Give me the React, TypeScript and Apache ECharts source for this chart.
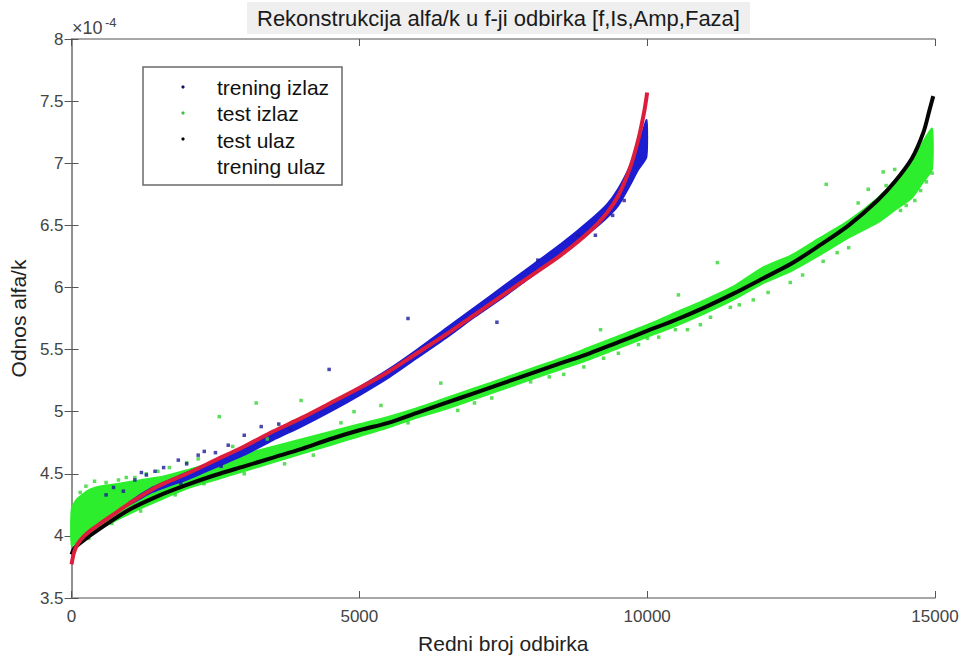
import React, { useEffect, useRef } from "react";
import * as echarts from "echarts";

const FONT = "'Liberation Sans', Arial, Helvetica, sans-serif";

// x axis ticks / y axis ticks (y values in units of 1e-4)
const xTicks = [0, 5000, 10000, 15000];
const yTicks = [3.5, 4, 4.5, 5, 5.5, 6, 6.5, 7, 7.5, 8];

// trening ulaz (red curve)
const trainInX = [0, 40, 100, 200, 350, 500, 750, 1000, 1500, 2000, 2500, 3000, 3500, 4000, 4500, 5000, 5500, 6000, 6500, 7000, 7500, 8000, 8500, 9000, 9300, 9500, 9700, 9850, 9950, 10000];
const trainInY = [3.77, 3.86, 3.93, 3.99, 4.05, 4.10, 4.18, 4.26, 4.40, 4.50, 4.61, 4.72, 4.84, 4.95, 5.07, 5.19, 5.32, 5.47, 5.62, 5.78, 5.94, 6.10, 6.26, 6.45, 6.60, 6.74, 6.96, 7.20, 7.42, 7.57];

// test ulaz (black curve)
const testInX = [0, 50, 170, 500, 1000, 1500, 2000, 2500, 3000, 3500, 4000, 4500, 5000, 5500, 6000, 6500, 7000, 7500, 8000, 8500, 9000, 9500, 10000, 10500, 11000, 11500, 12000, 12500, 13000, 13500, 14000, 14300, 14600, 14800, 14900, 14970];
const testInY = [3.85, 3.90, 3.95, 4.06, 4.21, 4.32, 4.41, 4.49, 4.56, 4.63, 4.70, 4.78, 4.85, 4.91, 4.99, 5.07, 5.15, 5.23, 5.31, 5.39, 5.47, 5.56, 5.65, 5.74, 5.84, 5.95, 6.07, 6.19, 6.34, 6.50, 6.70, 6.85, 7.04, 7.25, 7.42, 7.54];

// trening izlaz (blue) — dense band: lower / upper edge
const trainOutX = [1000, 1400, 1800, 2000, 2500, 3000, 3500, 4000, 4500, 5000, 5500, 6000, 6500, 7000, 7500, 8000, 8500, 9000, 9300, 9500, 9700, 9850, 9990];
const trainOutLo = [4.25, 4.35, 4.42, 4.45, 4.55, 4.65, 4.77, 4.88, 5.00, 5.13, 5.27, 5.43, 5.59, 5.76, 5.92, 6.09, 6.26, 6.44, 6.56, 6.66, 6.82, 6.95, 7.05];
const trainOutHi = [4.27, 4.39, 4.47, 4.51, 4.61, 4.72, 4.83, 4.95, 5.07, 5.20, 5.34, 5.50, 5.67, 5.84, 6.01, 6.18, 6.35, 6.54, 6.67, 6.80, 6.98, 7.15, 7.35];
// trening izlaz — scattered points
const trainOutPtsX = [600, 730, 900, 1100, 1214, 1300, 1450, 1600, 1855, 1900, 2000, 2200, 2306, 2500, 2600, 2722, 3000, 3295, 3600, 3800, 4475, 5845, 7390, 8100, 8800, 9100, 9400, 9600];
const trainOutPtsY = [4.33, 4.39, 4.36, 4.45, 4.51, 4.49, 4.52, 4.55, 4.61, 4.42, 4.58, 4.65, 4.68, 4.67, 4.56, 4.73, 4.81, 4.88, 4.90, 4.86, 5.34, 5.75, 5.72, 6.22, 6.42, 6.42, 6.58, 6.70];

// test izlaz (green) — dense band: lower / upper edge
const testOutX = [0, 100, 300, 500, 800, 1200, 1600, 2000, 2500, 3000, 3500, 4000, 4500, 5000, 5500, 6000, 6500, 7000, 7500, 8000, 8500, 9000, 9500, 10000, 10500, 11000, 11500, 12000, 12500, 13000, 13500, 14000, 14300, 14600, 14800, 14950];
const testOutLo = [3.92, 3.95, 4.00, 4.06, 4.13, 4.22, 4.30, 4.38, 4.45, 4.52, 4.59, 4.66, 4.73, 4.80, 4.87, 4.95, 5.02, 5.10, 5.18, 5.26, 5.34, 5.42, 5.51, 5.60, 5.69, 5.79, 5.90, 6.03, 6.13, 6.26, 6.40, 6.52, 6.62, 6.72, 6.85, 6.95];
const testOutHi = [4.22, 4.30, 4.37, 4.40, 4.42, 4.45, 4.48, 4.53, 4.60, 4.66, 4.72, 4.78, 4.84, 4.90, 4.96, 5.03, 5.11, 5.19, 5.27, 5.35, 5.43, 5.52, 5.61, 5.70, 5.80, 5.90, 6.01, 6.16, 6.26, 6.40, 6.54, 6.72, 6.86, 7.02, 7.18, 7.28];
// test izlaz — scattered points
const testOutPtsX = [150, 250, 400, 600, 815, 950, 1100, 1300, 1500, 1700, 2000, 2200, 2566, 2800, 3208, 3400, 3988, 4907, 50, 300, 700, 1200, 1800, 2300, 3000, 3700, 4200, 4680, 5375, 5845, 6415, 6710, 7000, 7300, 7600, 7976, 8300, 8550, 8900, 9190, 9242, 9500, 9850, 10005, 10200, 10490, 10543, 10700, 10924, 11100, 11220, 11445, 11600, 11843, 12100, 12485, 12700, 13057, 13110, 13300, 13500, 13665, 13840, 14100, 14150, 14300, 14400, 14500, 14650, 14750, 14850, 14950];
const testOutPtsY = [4.35, 4.40, 4.44, 4.43, 4.45, 4.47, 4.47, 4.50, 4.52, 4.55, 4.59, 4.62, 4.96, 4.72, 5.07, 4.78, 5.09, 5.00, 3.90, 3.98, 4.10, 4.20, 4.33, 4.42, 4.50, 4.58, 4.65, 4.91, 5.05, 4.91, 5.23, 5.01, 5.07, 5.11, 5.25, 5.24, 5.28, 5.30, 5.36, 5.66, 5.43, 5.47, 5.54, 5.59, 5.60, 5.66, 5.94, 5.66, 5.70, 5.76, 6.20, 5.84, 5.86, 5.90, 5.96, 6.04, 6.10, 6.21, 6.83, 6.28, 6.32, 6.68, 6.79, 6.93, 6.82, 6.95, 6.62, 6.66, 6.70, 6.78, 6.85, 6.92];

const legendNames = ["trening izlaz", "test izlaz", "test ulaz", "trening ulaz"];

const C_RED = "#dc1e3c";
const C_BLUE = "#1c1cd0";
const C_GREEN = "#2cee2c";
const C_BLACK = "#050505";

function bandSeries(name: string, xs: number[], lo: number[], hi: number[], color: string) {
  return {
    type: "custom",
    name,
    data: xs.map((x, i) => [x, lo[i], hi[i]]),
    encode: { x: 0, y: [1, 2] },
    renderItem: (params: any, api: any) => {
      if (params.dataIndex !== 0) return null;
      const pts: number[][] = [];
      for (let i = 0; i < xs.length; i++) pts.push(api.coord([xs[i], hi[i]]));
      for (let i = xs.length - 1; i >= 0; i--) pts.push(api.coord([xs[i], lo[i]]));
      return {
        type: "polygon",
        shape: { points: pts, smooth: 0.2 },
        style: { fill: color, stroke: color, lineWidth: 1.5 },
      };
    },
    silent: true,
  };
}

export default function App() {
  const ref = useRef<HTMLDivElement>(null);
  useEffect(() => {
    if (!ref.current) return;
    const chart = echarts.init(ref.current, undefined, { renderer: "svg" });
    const axisLine = { show: true, lineStyle: { color: "#8a8a8a", width: 1.5 } };
    const tick = { show: true, inside: true, length: 7, lineStyle: { color: "#555", width: 1 } };
    const labelStyle = { color: "#444", fontSize: 17, fontFamily: FONT };
    const option: any = {
      animation: false,
      backgroundColor: "#fff",
      title: {
        text: "Rekonstrukcija alfa/k u f-ji odbirka [f,Is,Amp,Faza]",
        left: 247,
        top: 2,
        padding: [5, 10, 5, 10],
        backgroundColor: "#efefef",
        textStyle: { fontSize: 22, fontWeight: "normal", color: "#1a1a1a", fontFamily: FONT },
      },
      grid: { left: 70, right: 31, top: 39, bottom: 62 },
      xAxis: [
        {
          type: "value",
          min: xTicks[0],
          max: xTicks[xTicks.length - 1],
          interval: xTicks[1] - xTicks[0],
          position: "bottom",
          axisLine,
          axisTick: tick,
          splitLine: { show: false },
          axisLabel: { ...labelStyle, margin: 10, formatter: (v: number) => String(v) },
          name: "Redni broj odbirka",
          nameLocation: "middle",
          nameGap: 35,
          nameTextStyle: { fontSize: 21, color: "#222", fontFamily: FONT },
        },
        {
          type: "value",
          min: xTicks[0],
          max: xTicks[xTicks.length - 1],
          interval: xTicks[1] - xTicks[0],
          position: "top",
          axisLine,
          axisTick: tick,
          splitLine: { show: false },
          axisLabel: { show: false },
        },
      ],
      yAxis: [
        {
          type: "value",
          min: yTicks[0],
          max: yTicks[yTicks.length - 1],
          interval: 0.5,
          position: "left",
          axisLine,
          axisTick: tick,
          splitLine: { show: false },
          axisLabel: { ...labelStyle, margin: 8, formatter: (v: number) => String(v) },
          name: "Odnos alfa/k",
          nameLocation: "middle",
          nameGap: 38,
          nameTextStyle: { fontSize: 21, color: "#222", fontFamily: FONT },
        },
        {
          type: "value",
          min: yTicks[0],
          max: yTicks[yTicks.length - 1],
          interval: 0.5,
          position: "right",
          axisLine,
          axisTick: tick,
          splitLine: { show: false },
          axisLabel: { show: false },
        },
      ],
      series: [
        bandSeries("test izlaz", testOutX, testOutLo, testOutHi, C_GREEN),
        {
          type: "scatter",
          name: "test izlaz pts",
          data: testOutPtsX.map((x, i) => [x, testOutPtsY[i]]),
          symbol: "rect",
          symbolSize: 3.5,
          itemStyle: { color: "#33d633" },
          silent: true,
        },
        bandSeries("trening izlaz", trainOutX, trainOutLo, trainOutHi, C_BLUE),
        {
          type: "scatter",
          name: "trening izlaz pts",
          data: trainOutPtsX.map((x, i) => [x, trainOutPtsY[i]]),
          symbol: "rect",
          symbolSize: 3.5,
          itemStyle: { color: "#1a1a9a" },
          silent: true,
        },
        {
          type: "line",
          name: "test ulaz",
          data: testInX.map((x, i) => [x, testInY[i]]),
          showSymbol: false,
          smooth: 0.3,
          lineStyle: { color: C_BLACK, width: 4 },
          silent: true,
        },
        {
          type: "line",
          name: "trening ulaz",
          data: trainInX.map((x, i) => [x, trainInY[i]]),
          showSymbol: false,
          smooth: 0.3,
          lineStyle: { color: C_RED, width: 4 },
          silent: true,
        },
      ],
      graphic: [
        {
          type: "text",
          x: 72,
          y: 28,
          z: 100,
          style: { text: "×10", font: `18px ${FONT}`, fill: "#444", verticalAlign: "middle" },
        },
        {
          type: "text",
          x: 105,
          y: 22,
          z: 100,
          style: { text: "-4", font: `13px ${FONT}`, fill: "#444", verticalAlign: "middle" },
        },
        {
          type: "rect",
          z: 100,
          shape: { x: 143, y: 67, width: 199, height: 118 },
          style: { fill: "#fff", stroke: "#6a6a6a", lineWidth: 1.5 },
        },
        { type: "circle", z: 101, shape: { cx: 183, cy: 87, r: 1.6 }, style: { fill: "#101060" } },
        { type: "circle", z: 101, shape: { cx: 183, cy: 113, r: 1.6 }, style: { fill: "#40c040" } },
        { type: "circle", z: 101, shape: { cx: 183, cy: 139, r: 1.6 }, style: { fill: "#000" } },
        ...legendNames.map((n, i) => ({
          type: "text",
          z: 101,
          x: 217,
          y: 87 + i * 26.5,
          style: { text: n, fontSize: 21, fill: "#111", fontFamily: FONT, verticalAlign: "middle", align: "left" },
        })),
      ],
    };
    chart.setOption(option);
    return () => chart.dispose();
  }, []);
  return (
    <div
      ref={ref}
      style={{ position: "fixed", left: 0, top: 0, width: 966, height: 660, background: "#fff" }}
    />
  );
}
